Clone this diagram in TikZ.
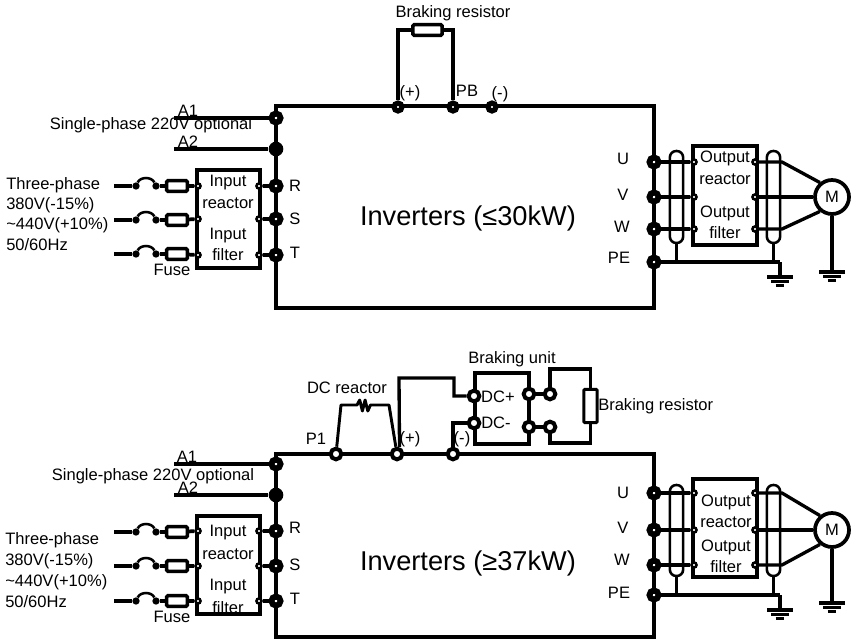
\documentclass[tikz,border=0pt]{standalone}
\usepackage{fontspec}
\setmainfont{Liberation Sans}
\usetikzlibrary{fit}
\tikzset{
  wire/.style={line width=2.5pt,line join=miter},
  feed/.style={line width=2.8pt,line join=miter},
  boxline/.style={line width=2.5pt},
  txt/.style={inner sep=0pt,font=\fontsize{12.4}{14}\selectfont},
  bigtxt/.style={inner sep=0pt,font=\fontsize{20.4}{24}\selectfont},
  solid dot/.style={circle,fill=black,inner sep=0pt,minimum size=11pt},
  pin dot/.style={circle,draw=black,fill=white,inner sep=0pt,line width=4.4pt,minimum size=6.8pt},
  small pin/.style={circle,draw=black,fill=white,inner sep=0pt,line width=3.9pt,minimum size=5.9pt},
  ring dot/.style={circle,draw=black,fill=white,inner sep=0pt,line width=3pt,minimum size=8pt},
  tiny ring/.style={circle,draw=black,fill=white,inner sep=0pt,line width=1.9pt,minimum size=3.8pt},
  tiny dot/.style={circle,fill=black,inner sep=0pt,minimum size=5.5pt},
  fusebox/.style={rectangle,draw=black,fill=white,rounded corners=1pt,line width=2.6pt,inner sep=0pt,minimum width=15.5pt,minimum height=8pt},
  capsule/.style={rectangle,draw=black,rounded corners=4.8pt,line width=1.9pt,inner sep=0pt,minimum width=10pt},
  motor/.style={circle,draw=black,fill=white,line width=2.8pt,inner sep=0pt,minimum size=25.5pt,font=\fontsize{12.4}{14}\selectfont},
}
% one input phase: feed, fuse switch, fuse, into the input block
\newcommand{\phaserow}[3]{%
  \coordinate (#1-s) at (114,#2);
  \node[tiny dot] (#1-a) at (136,#2) {};
  \node[tiny dot] (#1-b) at (156,#2) {};
  \node[fusebox] (#1-f) at (177,#2) {};
  \draw[feed] (#1-s) -- (#1-a);
  \draw[line width=1.9pt] (#1-a) to[bend left=65] (#1-b);
  \draw[feed] (#1-b) -- (#1-f);
  \draw[feed] (#1-f) -- (#3);
}
\newcommand{\groundmark}[1]{%
  \draw[line width=2.9pt] ([xshift=-9.4pt]#1) -- ([xshift=9.4pt]#1);
  \draw[line width=2.6pt] ([xshift=-6.4pt,yshift=-3.4pt]#1) -- ([xshift=6.4pt,yshift=-3.4pt]#1);
  \draw[line width=2.6pt] ([xshift=-3.2pt,yshift=-6.2pt]#1) -- ([xshift=3.2pt,yshift=-6.2pt]#1);
}
% output side: prefix, box top/bottom, capsule top/bottom, U V W PE
\newcommand{\outputside}[9]{%
  \node[draw=black,boxline,inner sep=0pt,fit={(693,#2)(757,#3)}] (#1-ob) {};
  \node[capsule,fit={(670,#4)(683,#5)}] (#1-c1) {};
  \node[capsule,fit={(767,#4)(780,#5)}] (#1-c2) {};
  \foreach \n/\v in {U/#6,V/#7,W/#8} {
    \node[pin dot] (#1-\n) at (654,\v) {};
    \node[tiny ring] (#1-\n i) at (694,\v) {};
    \node[tiny ring] (#1-\n o) at (755,\v) {};
    \draw[wire] (#1-\n) -- (#1-\n i);
  }
  \node[pin dot] (#1-PE) at (654,#9) {};
  \node[motor] (#1-m) at (832,#7) {M};
  \coordinate (#1-ju) at (782,#6);
  \coordinate (#1-jw) at (782,#8);
  \coordinate (#1-g1) at (780,#9);
  \draw[wire] (#1-Uo) -- (#1-ju) -- (#1-m.130);
  \draw[wire] (#1-Vo) -- (#1-m);
  \draw[wire] (#1-Wo) -- (#1-jw) -- (#1-m.230);
  \draw[wire] (#1-PE) -- (#1-g1);
  \draw[line width=1.9pt] (#1-c1.south) -- (#1-c1.south |- #1-g1);
  \draw[line width=1.9pt] (#1-c2.south) -- (#1-c2.south |- #1-g1);
}
\begin{document}
\begin{tikzpicture}[x=0.75pt,y=-0.75pt]
\useasboundingbox (0,0) rectangle (851,640);

% ---------- upper inverter ----------
\node[draw=black,boxline,inner sep=0pt,fit={(276,106)(654,308)}] (inv1) {};
\node[draw=black,boxline,inner sep=0pt,fit={(197,170)(260,268)}] (ib1) {};
\node[pin dot] (a1) at (276,118) {};
\node[solid dot] (a2) at (276,149) {};
\coordinate (a1s) at (174,118);
\coordinate (a2s) at (174,149);
\draw[wire] (a1s) -- (a1);
\draw[wire] (a2s) -- (a2);
\foreach \n/\v in {R/186,S/219,T/255} {
  \node[pin dot] (\n1) at (276,\v) {};
  \node[tiny ring] (\n1o) at (259,\v) {};
  \node[tiny ring] (\n1i) at (198,\v) {};
  \draw[wire] (\n1o) -- (\n1);
}
\phaserow{p1}{186}{R1i}
\phaserow{p2}{220}{S1i}
\phaserow{p3}{254}{T1i}

\node[small pin] (plus1) at (398,107) {};
\node[small pin] (pb1) at (453,107) {};
\node[small pin] (minus1) at (492,107) {};
\node[fusebox,minimum width=22pt] (br1) at (427.5,30) {};
\draw[wire] (plus1) |- (br1);
\draw[wire] (pb1) |- (br1);

\outputside{t}{146}{245}{151}{243}{162}{197}{229}{262}
\coordinate (tgm) at (832,272);
\coordinate (tgg) at (780,277);
\draw[wire] (t-g1) -- (tgg);
\draw[wire] (t-m) -- (tgm);
\groundmark{tgg}
\groundmark{tgm}

% ---------- lower inverter ----------
\node[draw=black,boxline,inner sep=0pt,fit={(276,454)(654,637)}] (inv2) {};
\node[draw=black,boxline,inner sep=0pt,fit={(197,516)(260,614)}] (ib2) {};
\node[pin dot] (b1) at (276,464) {};
\node[solid dot] (b2) at (276,495) {};
\coordinate (b1s) at (174,464);
\coordinate (b2s) at (174,495);
\draw[wire] (b1s) -- (b1);
\draw[wire] (b2s) -- (b2);
\foreach \n/\v in {R/531,S/566,T/601} {
  \node[pin dot] (\n2) at (276,\v) {};
  \node[tiny ring] (\n2o) at (259,\v) {};
  \node[tiny ring] (\n2i) at (198,\v) {};
  \draw[wire] (\n2o) -- (\n2);
}
\phaserow{q1}{532}{R2i}
\phaserow{q2}{566}{S2i}
\phaserow{q3}{601}{T2i}

\node[ring dot] (p1n) at (336,454) {};
\node[ring dot] (plus2) at (397,454) {};
\node[ring dot] (minus2) at (453,454) {};

% DC reactor
\coordinate (dr1) at (341,405);
\coordinate (dr2) at (357,405);
\coordinate (dr3) at (373,405);
\coordinate (dr4) at (389,405);
\draw[line width=2.2pt,line join=round] (p1n) -- (dr1) -- (dr2) -- ++(2.7,-5) -- ++(2.7,11) -- ++(2.7,-11) -- ++(2.7,11) -- ++(2.7,-6) -- (dr3) -- (dr4) -- (plus2);

% Braking unit
\node[draw=black,boxline,inner sep=0pt,fit={(475,373)(529,444)}] (bu) {};
\node[ring dot] (dcp) at (474,396) {};
\node[ring dot] (dcm) at (474,423) {};
\node[ring dot] (buo1) at (529,394) {};
\node[ring dot] (buo2) at (529,427) {};
\node[ring dot] (brt) at (550,394) {};
\node[ring dot] (brb) at (550,427) {};
\node[rectangle,draw=black,fill=white,line width=2.25pt,inner sep=0pt,rounded corners=0.8pt,minimum width=10pt,minimum height=25pt] (br2) at (590.5,406) {};
\coordinate (pv1) at (399,378);
\coordinate (pv2) at (454,378);
\coordinate (pv3) at (454,396);
\draw[wire] (plus2.70) -- (pv1) -- (pv2) -- (pv3) -- (dcp);
\draw[wire] (minus2) |- (dcm);
\draw[wire] (buo1) -- (brt);
\draw[wire] (buo2) -- (brb);
\coordinate (rt) at (550,369);
\coordinate (rb) at (550,443);
\draw[wire] (brt) -- (rt) -| (br2);
\draw[wire] (brb) -- (rb) -| (br2);

\outputside{l}{479}{577}{485}{576}{493}{530}{565}{595}
\coordinate (lgm) at (832,603);
\coordinate (lgg) at (780,610);
\draw[wire] (l-g1) -- (lgg);
\draw[wire] (l-m) -- (lgm);
\groundmark{lgg}
\groundmark{lgm}

% ---------- texts ----------
\node[txt] (tbr) at (453,13) {Braking resistor};
\node[txt] (tpl) at (410,93) {(+)};
\node[txt] (tpb) at (467,91) {PB};
\node[txt] (tmi) at (500,94) {(-)};
\node[txt] (ta1) at (188,111) {A1};
\node[txt] (ta2) at (188,142) {A2};
\node[txt] (tsp) at (151,125) {Single-phase 220V optional};
\foreach \m/\s/\v in {a/Three-phase/185,b/380V(-15\%)/205,c/\textasciitilde 440V(+10\%)/225,d/50\slash 60Hz/245}
  \node[txt,anchor=west] (t3\m) at (6,\v) {\s};
\node[txt] (tfu) at (172,270) {Fuse};
\node[txt] (ti1) at (228,183) {Input};
\node[txt] (ti2) at (228,203) {reactor};
\node[txt] (ti3) at (228,236) {Input};
\node[txt] (ti4) at (228,255) {filter};
\node[txt] (tR) at (295,186) {R};
\node[txt] (tS) at (295,219) {S};
\node[txt] (tT) at (295,253) {T};
\node[txt] (tU) at (623,159) {U};
\node[txt] (tV) at (623,195) {V};
\node[txt] (tW) at (622,227) {W};
\node[txt] (tPE) at (619,258) {PE};
\node[txt] (to1) at (725,158) {Output};
\node[txt] (to2) at (725,179) {reactor};
\node[txt] (to3) at (725,213) {Output};
\node[txt] (to4) at (725,233) {filter};
\node[bigtxt] (tinv1) at (468,218) {Inverters (≤30kW)};

\node[txt] (ubu) at (512,359) {Braking unit};
\node[txt] (udr) at (347,388) {DC reactor};
\node[txt] (up1) at (316,439) {P1};
\node[txt] (upl) at (410,439) {(+)};
\node[txt] (umi) at (462,439) {(-)};
\node[txt] (udp) at (498,397) {DC+};
\node[txt] (udm) at (496,423) {DC-};
\node[txt,anchor=west] (ubr) at (598,406) {Braking resistor};
\node[txt] (ua1) at (187,457) {A1};
\node[txt] (ua2) at (188,488) {A2};
\node[txt] (usp) at (153,476) {Single-phase 220V optional};
\foreach \m/\s/\v in {a/Three-phase/540,b/380V(-15\%)/561,c/\textasciitilde 440V(+10\%)/582,d/50\slash 60Hz/602}
  \node[txt,anchor=west] (u3\m) at (5,\v) {\s};
\node[txt] (ufu) at (172,617) {Fuse};
\node[txt] (ui1) at (228,533) {Input};
\node[txt] (ui2) at (228,554) {reactor};
\node[txt] (ui3) at (228,587) {Input};
\node[txt] (ui4) at (228,608) {filter};
\node[txt] (uR) at (295,528) {R};
\node[txt] (uS) at (295,565) {S};
\node[txt] (uT) at (295,599) {T};
\node[txt] (uU) at (623,493) {U};
\node[txt] (uV) at (623,528) {V};
\node[txt] (uW) at (622,560) {W};
\node[txt] (uPE) at (619,593) {PE};
\node[txt] (uo1) at (726,502) {Output};
\node[txt] (uo2) at (726,522) {reactor};
\node[txt] (uo3) at (726,547) {Output};
\node[txt] (uo4) at (726,567) {filter};
\node[bigtxt] (uinv) at (468,563) {Inverters (≥37kW)};
\end{tikzpicture}
\end{document}
